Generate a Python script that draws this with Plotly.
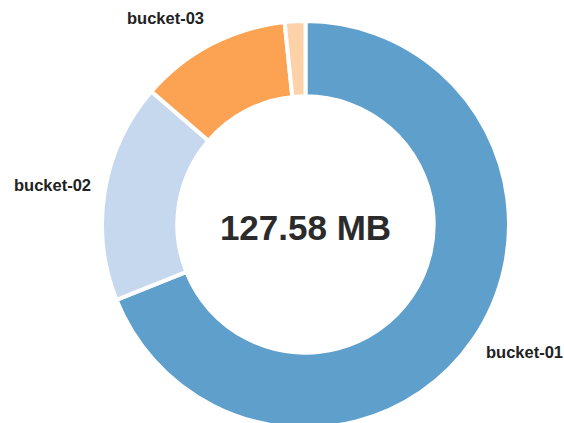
import math
import plotly.graph_objects as go

# Storage used per bucket (MB)
buckets = ["bucket-01", "bucket-02", "bucket-03", "bucket-04"]
sizes_mb = [87.99, 22.15, 15.35, 2.09]
show_label = [True, True, True, False]
slice_colors = ["#5f9fcc", "#c5d8ee", "#fba352", "#fdd2a8"]

total_mb = sum(sizes_mb)

FIG_W, FIG_H = 564, 428
MARGIN = dict(l=97, r=50, t=21, b=0)
LABEL_FONT = dict(family="Liberation Sans, Arial, sans-serif", size=16.5,
                  color="#222222", weight="bold")

fig = go.Figure(
    go.Pie(
        labels=buckets,
        values=sizes_mb,
        textinfo="none",
        hole=0.63,
        sort=False,
        direction="clockwise",
        rotation=0,
        marker=dict(colors=slice_colors, line=dict(color="white", width=4)),
        title=dict(
            text=f"{total_mb:.2f} MB",
            position="middle center",
            font=dict(family="Liberation Sans, Arial, sans-serif", size=35,
                      color="#2b2b2b", weight="bold"),
        ),
        showlegend=False,
        hoverinfo="label+value",
    )
)

# Outside slice labels: the label corner nearest the ring sits on the
# slice's mid-angle, just beyond the outer edge
plot_w = FIG_W - MARGIN["l"] - MARGIN["r"]
plot_h = FIG_H - MARGIN["t"] - MARGIN["b"]
radius_px = min(plot_w, plot_h) / 2
label_r = radius_px + 12

cum = 0.0
for name, val, show in zip(buckets, sizes_mb, show_label):
    mid = (cum + val / 2) / total_mb * 2 * math.pi
    cum += val
    if not show:
        continue
    s, c = math.sin(mid), math.cos(mid)
    if abs(c) < 0.3:
        yanchor = "middle"
    else:
        yanchor = "bottom" if c > 0 else "top"
    fig.add_annotation(
        x=0.5 + label_r * s / plot_w,
        y=0.5 + label_r * c / plot_h,
        xref="paper",
        yref="paper",
        text=name,
        showarrow=False,
        xanchor="left" if s >= 0 else "right",
        yanchor=yanchor,
        yshift=4,
        font=LABEL_FONT,
    )

fig.update_layout(
    width=FIG_W,
    height=FIG_H,
    margin=MARGIN,
    paper_bgcolor="white",
    plot_bgcolor="white",
)

fig.write_html("out.html", post_script="document.body.style.overflow='hidden';")
